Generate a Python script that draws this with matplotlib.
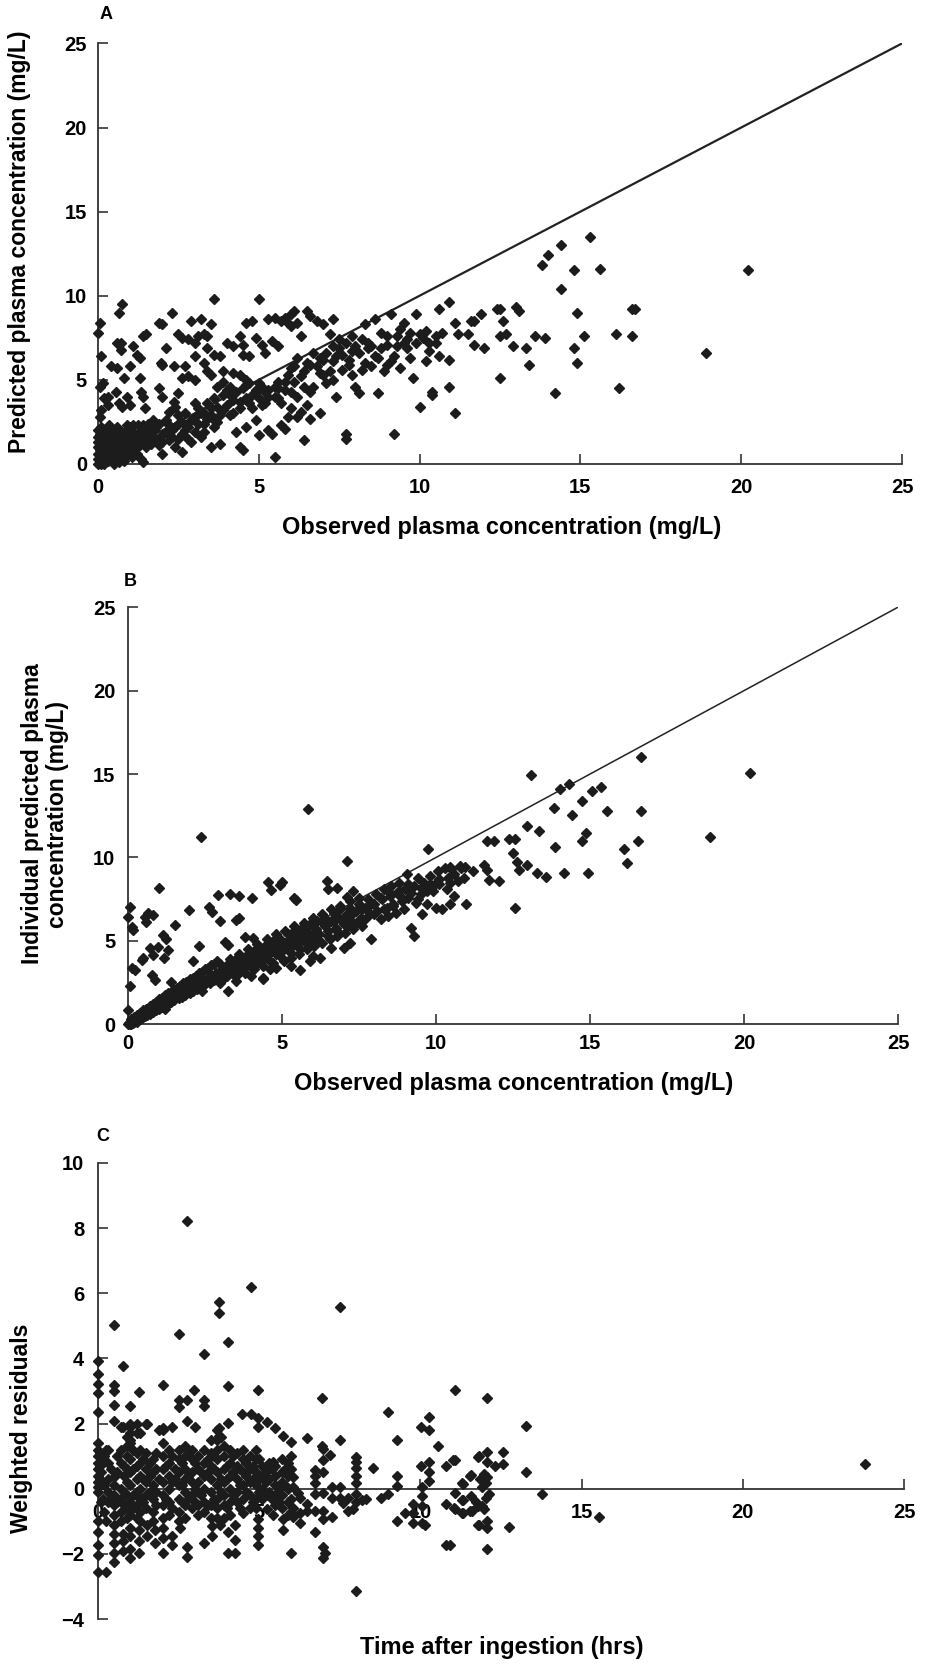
import numpy as np
import matplotlib.pyplot as plt

plt.rcParams['font.family'] = ['Liberation Sans', 'DejaVu Sans']
plt.rcParams['font.weight'] = 'bold'

# ---- Panel A: observed vs population predicted (mg/L) ----
a_origin = [(0.0, 0.0), (0.0, 0.3), (0.0, 0.6), (0.0, 1.0), (0.05, 0.2), (0.05, 0.8), (0.1, 0.5), (0.1, 1.2),
            (0.15, 0.1), (0.15, 1.5), (0.2, 0.4), (0.2, 0.9), (0.25, 1.7), (0.3, 0.2), (0.3, 0.7), (0.3, 1.3),
            (0.35, 1.0), (0.4, 0.5), (0.4, 1.6), (0.45, 0.2), (0.5, 0.9), (0.5, 1.3), (0.55, 1.8), (0.6, 0.6),
            (0.6, 1.1), (0.65, 0.1), (0.7, 1.5), (0.75, 0.8), (0.8, 1.9), (0.8, 1.2), (0.85, 0.4), (0.9, 1.0),
            (0.95, 1.6), (1.0, 2.2), (1.0, 0.7), (1.05, 1.3), (1.1, 1.9), (1.15, 0.9), (1.2, 1.5), (1.25, 2.3),
            (1.3, 1.1), (1.35, 0.3), (1.4, 1.7), (1.45, 2.0), (1.5, 1.3), (1.55, 2.4), (0.2, 0.0), (0.5, 0.0),
            (1.4, 0.1), (0.7, 0.3), (0.25, 2.0), (0.6, 2.2), (0.9, 2.3), (0.1, 0.0), (0.35, 0.5), (0.55, 1.4),
            (0.75, 1.0), (1.1, 1.5), (1.2, 0.6), (0.4, 2.1), (0.65, 1.7), (0.85, 1.4), (0.0, 1.3), (0.0, 1.6),
            (0.0, 2.0), (0.05, 1.8), (0.1, 2.2), (0.15, 0.7), (0.2, 1.3), (0.25, 0.6), (0.3, 1.8), (0.35, 2.3),
            (0.4, 0.9), (0.45, 1.4), (0.5, 1.8), (0.55, 0.3), (0.6, 1.5), (0.65, 2.0), (0.7, 0.6), (0.7, 1.1),
            (0.8, 0.2), (0.85, 1.7), (0.9, 0.6), (0.95, 2.0), (1.0, 1.1), (1.05, 0.4), (1.1, 2.3), (1.15, 1.6),
            (1.2, 1.0), (1.3, 1.9), (1.35, 1.4), (1.4, 2.3), (1.5, 1.0), (1.55, 1.7), (1.6, 2.2), (1.65, 1.2)]
a_band = [(1.6, 1.8), (1.7, 1.4), (1.8, 2.2), (1.9, 1.1), (2.0, 1.7), (2.1, 2.6), (2.2, 1.4), (2.3, 2.0),
          (2.4, 1.0), (2.5, 2.4), (2.6, 0.7), (2.6, 1.8), (2.7, 3.0), (2.8, 2.2), (2.9, 1.3), (3.0, 2.8),
          (3.1, 3.3), (3.2, 1.6), (3.3, 2.4), (3.4, 3.6), (3.5, 1.0), (3.5, 2.9), (2.2, 3.1), (2.4, 3.4),
          (1.7, 2.6), (2.0, 0.6), (3.6, 3.9), (3.7, 4.6), (3.8, 1.2), (3.9, 3.2), (4.0, 4.4), (4.1, 2.9),
          (4.2, 3.8), (4.3, 1.9), (4.4, 1.0), (4.5, 0.8), (4.6, 4.7), (4.7, 3.6), (4.8, 4.1), (4.9, 2.6),
          (5.0, 1.7), (5.0, 4.8), (5.1, 3.5), (5.2, 4.3), (5.3, 2.0), (5.4, 1.8), (5.5, 0.4), (5.5, 4.6),
          (5.6, 3.9), (5.7, 2.3), (5.8, 4.4), (5.9, 5.3), (6.0, 3.3), (6.0, 5.7), (3.9, 4.9), (4.1, 4.1),
          (3.7, 2.5), (4.6, 2.2), (5.8, 2.1), (6.2, 2.8), (6.1, 4.9), (6.2, 6.3), (6.3, 5.2), (6.4, 1.4),
          (6.5, 6.0), (6.6, 4.3), (6.7, 6.6), (6.8, 5.8), (6.9, 3.0), (7.0, 6.2), (7.1, 4.8), (7.2, 5.5),
          (7.3, 7.0), (7.4, 4.0), (7.5, 7.4), (7.6, 6.5), (7.7, 1.8), (7.7, 1.5), (7.8, 5.9), (7.9, 7.6),
          (8.0, 4.6), (8.0, 7.0), (8.1, 4.2), (6.3, 3.1), (6.6, 2.7), (7.5, 6.9), (7.2, 7.7), (8.2, 5.6),
          (8.3, 8.3), (8.4, 7.2), (8.5, 5.8), (8.6, 8.6), (8.7, 6.3), (8.7, 4.2), (8.8, 7.8), (8.9, 5.5),
          (9.0, 7.1), (9.1, 8.9), (9.2, 1.8), (9.2, 6.4), (9.3, 7.6), (9.4, 5.7), (9.5, 8.4), (9.6, 6.9),
          (9.7, 7.8), (9.8, 5.1), (9.9, 8.9), (10.0, 3.4), (10.1, 7.5), (10.2, 6.1), (10.3, 7.2), (10.4, 4.3),
          (10.5, 7.6), (10.6, 6.4), (10.4, 4.1), (10.6, 9.2), (10.9, 9.6), (11.1, 8.4), (10.9, 6.2), (10.9, 4.6),
          (11.1, 3.0), (9.5, 7.2), (8.4, 6.9), (9.0, 5.9), (2.5, 2.9), (3.0, 3.6), (3.3, 3.0), (3.6, 2.2),
          (4.4, 3.3), (4.9, 4.4), (5.3, 4.0), (5.6, 4.9), (6.4, 4.6), (6.9, 5.4), (7.3, 6.1), (7.9, 6.7),
          (1.75, 2.0), (1.8, 1.5), (1.9, 2.4), (2.0, 1.3), (2.1, 1.9), (2.2, 2.3), (2.3, 1.6), (2.4, 2.2),
          (2.5, 1.5), (2.6, 2.5), (2.7, 2.0), (2.8, 1.5), (2.9, 2.6), (3.0, 1.9), (3.1, 2.4), (3.2, 3.0),
          (3.3, 1.9), (3.4, 2.7), (3.5, 3.3), (3.6, 2.6), (3.7, 3.4), (3.8, 2.9), (3.9, 4.1), (4.0, 3.5),
          (4.1, 4.6), (4.2, 3.0), (4.3, 4.3), (4.4, 3.7), (4.5, 4.5), (4.6, 3.9), (4.7, 4.8), (4.8, 3.3),
          (4.9, 4.3), (5.0, 3.9), (5.1, 4.6), (5.2, 3.6), (5.3, 4.4), (5.5, 4.0), (5.6, 4.5), (5.7, 3.6),
          (5.8, 4.9), (5.9, 2.8), (6.0, 4.3), (6.1, 5.8), (6.2, 4.0), (6.4, 5.5), (6.5, 3.5), (6.6, 5.9),
          (6.7, 4.6), (6.9, 6.3), (7.0, 5.3), (7.1, 6.6), (7.3, 5.0), (7.4, 6.4), (7.6, 5.6), (7.7, 7.2),
          (7.8, 6.2), (7.9, 5.3), (8.1, 6.6), (8.2, 7.4), (8.3, 6.0), (8.5, 7.0), (8.6, 6.4), (8.8, 6.9),
          (9.0, 7.6), (9.1, 6.1), (9.3, 7.0), (9.4, 8.0), (9.6, 7.4), (9.7, 6.3), (9.9, 7.2), (10.0, 7.7),
          (10.2, 7.9), (10.3, 6.7), (10.5, 7.2), (10.7, 7.8)]
a_upper = [(0.0, 7.8), (0.05, 8.4), (0.1, 6.4), (0.05, 4.6), (0.15, 4.8), (0.1, 3.2), (0.05, 2.8), (0.2, 3.9),
           (0.3, 4.0), (0.3, 3.5), (0.75, 9.5), (0.65, 9.0), (0.6, 7.2), (0.7, 7.2), (0.7, 6.8), (0.4, 5.8),
           (0.6, 5.7), (0.8, 5.1), (0.55, 4.3), (0.65, 3.6), (0.75, 3.4), (0.9, 4.0), (1.0, 3.5), (1.1, 7.0),
           (1.2, 6.5), (1.3, 6.3), (1.0, 5.8), (1.4, 7.6), (1.5, 7.7), (1.3, 5.1), (1.35, 4.3), (1.4, 4.0),
           (1.45, 3.3), (1.9, 8.4), (2.0, 8.3), (2.3, 9.0), (2.1, 6.9), (1.95, 6.0), (2.0, 5.9), (2.35, 5.8),
           (1.9, 4.5), (2.0, 4.0), (2.35, 3.7), (2.5, 4.2), (2.5, 7.7), (2.6, 7.5), (2.8, 7.4), (2.9, 8.5),
           (3.0, 7.2), (3.1, 7.6), (3.2, 8.6), (3.3, 7.7), (3.4, 7.6), (3.5, 8.3), (3.6, 9.8), (3.4, 6.9),
           (3.6, 6.5), (3.3, 6.0), (3.4, 5.5), (3.5, 5.3), (2.7, 5.8), (2.8, 5.2), (3.0, 5.0), (2.6, 5.1),
           (3.0, 6.4), (4.0, 7.2), (4.2, 7.0), (4.4, 7.6), (4.5, 7.1), (4.6, 8.4), (4.8, 8.5), (4.9, 7.5),
           (5.0, 9.8), (5.1, 7.1), (5.3, 8.6), (5.5, 8.7), (5.7, 8.5), (5.8, 8.7), (5.9, 8.4), (6.0, 8.9),
           (6.1, 9.1), (6.0, 8.2), (6.2, 8.4), (6.5, 9.1), (6.6, 8.8), (6.8, 8.5), (7.0, 8.3), (7.3, 8.6),
           (6.3, 7.6), (5.4, 7.3), (5.6, 7.0), (5.2, 6.6), (4.7, 6.4), (4.5, 6.5), (4.4, 5.3), (4.6, 5.0),
           (4.2, 5.4), (3.8, 6.4), (3.9, 5.5)]
a_high = [(15.3, 13.5), (14.4, 13.0), (14.0, 12.4), (13.8, 11.8), (14.8, 11.5), (15.6, 11.6), (20.2, 11.5),
          (14.4, 10.4), (12.4, 9.2), (12.5, 9.2), (13.0, 9.3), (13.1, 9.1), (11.9, 8.9), (11.6, 8.5),
          (11.7, 8.5), (12.6, 8.5), (14.9, 9.0), (16.6, 9.2), (16.7, 9.2), (11.2, 7.7), (11.5, 7.7),
          (12.5, 7.6), (12.7, 7.7), (13.6, 7.6), (13.9, 7.5), (15.1, 7.6), (16.1, 7.7), (16.6, 7.6),
          (11.7, 7.1), (12.0, 6.9), (12.9, 7.0), (13.3, 6.9), (14.8, 6.9), (18.9, 6.6), (14.9, 6.0),
          (13.4, 5.9), (12.5, 5.1), (14.2, 4.2), (16.2, 4.5)]

# ---- Panel B: observed vs individual predicted (mg/L) ----
b_band = [(0.0, 0.0), (0.02, 0.1), (0.05, 0.0), (0.08, 0.15), (0.1, 0.05), (0.12, 0.2), (0.15, 0.1), (0.18, 0.25),
          (0.2, 0.15), (0.22, 0.3), (0.25, 0.2), (0.3, 0.4), (0.32, 0.25), (0.35, 0.45), (0.4, 0.35), (0.42, 0.55),
          (0.45, 0.4), (0.5, 0.6), (0.55, 0.5), (0.6, 0.75), (0.62, 0.55), (0.65, 0.8), (0.7, 0.65), (0.75, 0.9),
          (0.8, 0.75), (0.85, 1.0), (0.9, 0.85), (0.95, 1.15), (1.0, 0.95), (1.05, 1.25), (1.1, 1.05), (1.15, 1.35),
          (1.2, 1.15), (1.25, 1.45), (1.3, 1.25), (1.35, 1.55), (1.4, 1.35), (1.45, 1.65), (1.5, 1.45), (1.6, 1.75),
          (1.65, 1.55), (1.7, 1.9), (1.75, 1.65), (1.8, 2.0), (1.85, 1.75), (1.9, 2.1), (2.0, 1.9), (2.05, 2.25),
          (2.1, 2.0), (2.2, 2.4), (2.25, 2.1), (2.3, 2.55), (2.4, 2.3), (2.45, 2.7), (2.5, 2.4), (2.6, 2.8),
          (2.65, 2.5), (2.7, 2.95), (2.8, 2.65), (2.85, 3.1), (2.9, 2.75), (3.0, 3.2), (3.05, 2.9), (3.1, 3.4),
          (3.2, 3.05), (3.25, 3.6), (3.3, 3.2), (3.4, 3.7), (3.45, 3.3), (3.5, 3.9), (3.55, 3.0), (3.6, 3.5),
          (3.7, 4.0), (3.75, 3.3), (3.8, 3.7), (3.9, 4.2), (3.95, 3.5), (4.0, 3.9), (4.1, 4.4), (4.15, 3.6),
          (4.2, 4.1), (4.3, 4.6), (4.35, 3.8), (4.4, 2.8), (4.45, 4.3), (4.5, 4.8), (4.55, 3.9), (4.6, 3.3),
          (4.65, 4.5), (4.7, 5.0), (4.8, 4.2), (4.85, 4.7), (4.9, 5.2), (5.0, 4.4), (5.05, 3.8), (5.1, 4.9),
          (5.2, 5.4), (5.25, 4.6), (5.3, 4.0), (5.35, 5.1), (5.4, 5.6), (5.5, 4.8), (5.55, 4.2), (5.6, 5.3),
          (5.65, 5.8), (5.7, 5.0), (5.8, 4.5), (5.85, 5.5), (5.9, 6.0), (6.0, 5.2), (6.05, 4.7), (6.1, 5.7),
          (6.15, 6.2), (6.2, 5.4), (6.3, 4.9), (6.35, 6.0), (6.4, 6.4), (6.5, 5.6), (6.55, 5.1), (6.6, 6.2),
          (6.7, 6.7), (6.75, 5.8), (6.8, 5.3), (6.85, 6.4), (6.9, 6.9), (7.0, 6.0), (7.05, 5.5), (7.1, 6.6),
          (7.2, 7.0), (7.25, 6.2), (7.3, 5.7), (7.4, 6.8), (7.5, 7.2), (7.55, 6.4), (7.6, 5.9), (7.7, 7.0),
          (7.8, 7.5), (7.85, 6.6), (7.9, 5.1), (8.0, 7.2), (8.05, 7.8), (8.1, 6.8), (8.2, 6.3), (8.25, 7.5),
          (8.3, 8.1), (8.4, 7.0), (8.45, 6.5), (8.5, 7.7), (8.55, 8.3), (8.6, 7.2), (8.7, 6.7), (8.75, 7.9),
          (8.8, 8.5), (8.9, 7.4), (8.95, 6.9), (9.0, 8.1), (9.05, 9.0), (9.1, 7.6), (9.2, 5.8), (9.3, 5.3),
          (9.3, 8.3), (9.35, 7.3), (9.4, 8.8), (9.5, 7.8), (9.55, 6.6), (9.6, 8.5), (9.7, 7.2), (9.8, 8.9),
          (9.9, 8.0), (10.0, 7.0), (10.05, 9.2), (10.1, 8.4), (10.2, 6.9), (10.3, 9.4), (10.35, 8.1), (10.5, 9.3),
          (10.6, 7.7), (10.7, 8.6), (10.8, 9.4), (3.26, 1.98), (5.58, 3.23), (6.23, 3.97), (4.4, 2.7),
          (2.0, 2.3), (2.4, 2.0), (1.0, 1.3), (1.2, 0.9), (0.5, 0.8), (0.3, 0.15), (1.5, 1.9), (1.8, 2.3)]
b_thick = [(0.1, 0.3), (0.2, 0.45), (0.3, 0.55), (0.4, 0.7), (0.5, 0.85), (0.6, 0.95), (0.7, 1.1), (0.8, 1.2),
           (0.9, 1.35), (1.0, 1.5), (1.1, 1.6), (1.2, 1.75), (1.3, 1.85), (1.4, 1.95), (1.5, 2.05), (1.6, 2.2),
           (1.7, 2.3), (1.8, 2.45), (1.9, 2.55), (2.0, 2.7), (2.1, 2.8), (2.2, 2.9), (2.3, 3.05), (2.4, 3.15),
           (2.5, 3.3), (2.6, 3.4), (2.7, 3.55), (2.8, 3.6), (2.9, 3.8), (3.0, 2.5), (3.1, 2.7), (3.2, 2.9),
           (3.4, 3.0), (3.6, 3.1), (3.0, 3.6), (3.3, 3.9), (3.6, 4.2), (3.9, 4.5), (4.2, 4.8), (4.5, 5.1),
           (4.8, 5.4), (5.1, 5.6), (5.4, 5.9), (5.7, 6.1), (6.0, 6.4), (6.3, 6.6), (6.6, 6.9), (6.9, 7.1),
           (7.2, 7.4), (7.5, 7.6), (3.8, 3.1), (4.1, 3.3), (4.4, 3.5), (4.7, 3.7), (5.0, 4.0), (5.3, 4.3),
           (5.6, 4.5), (5.9, 4.8), (6.2, 5.0), (6.5, 5.3), (6.8, 5.6), (7.1, 5.9), (7.4, 6.1), (7.7, 6.3),
           (8.0, 6.6), (8.3, 6.9), (8.6, 7.1), (8.9, 7.6), (9.2, 7.9), (9.5, 8.2), (9.8, 8.4), (10.1, 8.7),
           (4.3, 4.0), (4.6, 4.3), (4.9, 4.6), (5.2, 4.9), (5.5, 5.2), (5.8, 5.3), (6.1, 5.6), (6.4, 5.9),
           (6.7, 6.2), (7.0, 6.4), (7.3, 6.7), (7.6, 6.9), (7.9, 7.2), (8.2, 7.6), (8.5, 7.9), (8.8, 8.0),
           (9.1, 8.4), (9.4, 7.5), (9.7, 8.0), (10.0, 8.5), (10.4, 8.8), (10.6, 9.0), (3.5, 2.6), (4.0, 2.9),
           (4.8, 3.4), (5.3, 3.5), (5.9, 3.8), (6.6, 4.6), (7.2, 4.9), (6.0, 4.1), (7.0, 4.6)]
b_upper = [(5.86, 12.9), (2.37, 11.21), (9.75, 10.52), (7.1, 9.78), (1.0, 8.19), (4.56, 8.53), (4.63, 8.08),
           (4.99, 8.53), (4.94, 8.33), (2.93, 7.74), (3.31, 7.84), (3.61, 7.68), (4.04, 7.6), (6.45, 8.59),
           (6.5, 8.13), (6.78, 8.19), (5.39, 7.6), (5.45, 7.44), (7.32, 8.0), (7.1, 7.64), (1.99, 6.88),
           (2.64, 7.04), (2.72, 6.75), (3.0, 6.21), (3.5, 6.25), (3.61, 6.35), (0.07, 7.04), (0.01, 6.41),
           (0.12, 5.85), (0.17, 5.65), (0.55, 6.45), (0.66, 6.65), (0.82, 6.55), (0.6, 6.15), (1.53, 5.95),
           (1.15, 5.36), (1.25, 5.1), (1.31, 4.46), (0.98, 4.66), (0.71, 4.56), (0.8, 4.17), (0.5, 3.97),
           (0.44, 3.87), (0.12, 3.37), (0.23, 3.27), (0.07, 2.28), (0.01, 0.89), (0.77, 2.98), (0.88, 2.68),
           (1.18, 3.97), (1.39, 2.52), (2.31, 4.72), (2.12, 3.77), (4.07, 5.16), (3.8, 5.26), (3.15, 4.96),
           (3.26, 4.76)]
b_high = [(16.64, 16.03), (13.09, 14.96), (20.19, 15.08), (14.03, 14.11), (14.33, 14.38), (14.75, 13.39),
          (15.08, 13.99), (15.35, 14.25), (13.83, 12.94), (15.54, 12.8), (16.64, 12.8), (14.43, 12.56),
          (12.97, 11.87), (13.35, 11.61), (18.88, 11.25), (11.65, 10.99), (11.88, 10.99), (12.38, 11.11),
          (12.56, 11.11), (14.86, 11.49), (14.75, 10.97), (13.88, 10.61), (16.57, 10.97), (16.12, 10.5),
          (16.19, 9.64), (12.51, 10.26), (12.62, 9.72), (12.7, 9.27), (12.97, 9.54), (13.29, 9.07),
          (13.56, 8.81), (14.16, 9.07), (14.92, 9.07), (11.57, 9.56), (11.65, 9.23), (11.73, 8.67),
          (12.03, 8.57), (11.19, 9.17), (10.92, 8.79), (10.78, 9.5), (10.94, 9.46), (10.45, 9.46),
          (10.45, 8.47), (10.45, 7.24), (10.99, 7.24), (12.56, 7.0)]

# ---- Panel C: time after ingestion (hrs) vs weighted residuals ----
c_cloud = [(0.0, 1.4), (0.0, 1.2), (0.0, 1.0), (0.0, 0.8), (0.0, 0.6), (0.0, 0.4), (0.0, 0.2), (0.0, 0.05),
           (0.0, -0.1), (0.05, 1.1), (0.05, 0.7), (0.05, 0.3), (0.3, 1.2), (0.3, 0.8), (0.3, 0.3), (0.3, -0.1),
           (0.3, -0.4), (0.5, 0.35), (0.5, 0.1), (0.5, -0.2), (0.5, -0.5), (0.5, -0.8), (0.5, -1.1),
           (0.7, 1.9), (0.7, 1.2), (0.7, 0.8), (0.7, 0.0), (0.7, -0.3), (0.7, -0.7), (0.7, -1.0),
           (0.9, 1.6), (0.9, 1.3), (0.9, 1.0), (0.9, 0.6), (0.9, 0.2), (0.9, -0.2), (0.9, -0.6), (0.9, -0.9),
           (1.0, 1.9), (1.0, 1.4), (1.0, 0.9), (1.0, 0.5), (1.0, 0.1), (1.0, -0.4), (1.0, -0.8), (1.0, -1.2),
           (1.2, 1.7), (1.2, 1.1), (1.2, 0.7), (1.2, 0.3), (1.2, -0.1), (1.2, -0.5), (1.2, -0.9),
           (1.3, 1.2), (1.3, 0.8), (1.3, 0.4), (1.3, 0.0), (1.3, -0.3), (1.3, -0.7), (1.3, -1.0),
           (1.5, 1.1), (1.5, 0.6), (1.5, 0.2), (1.5, -0.2), (1.5, -0.6), (1.7, 0.9), (1.7, 0.5), (1.7, 0.1),
           (1.7, -0.3), (1.7, -0.7), (1.7, -1.0), (2.0, 1.8), (2.0, 1.4), (2.0, 1.0), (2.0, 0.6), (2.0, 0.2),
           (2.0, -0.2), (2.0, -0.5), (2.0, -0.9), (2.0, -1.2), (2.2, 1.2), (2.2, 0.8), (2.2, 0.4), (2.2, 0.0),
           (2.2, -0.4), (2.2, -0.8), (2.5, 1.2), (2.5, 0.9), (2.5, 0.5), (2.5, 0.1), (2.5, -0.3), (2.5, -0.7),
           (2.5, -1.0), (2.7, 1.3), (2.7, 1.0), (2.7, 0.6), (2.7, 0.3), (2.7, -0.1), (2.7, -0.5), (2.7, -0.9),
           (2.9, 1.2), (2.9, 0.9), (2.9, 0.5), (2.9, 0.2), (2.9, -0.2), (2.9, -0.6), (3.1, 1.0), (3.1, 0.6),
           (3.1, 0.2), (3.1, -0.1), (3.1, -0.5), (3.1, -0.8), (3.3, 1.2), (3.3, 0.8), (3.3, 0.4), (3.3, 0.0),
           (3.3, -0.4), (3.3, -0.7), (3.5, 1.1), (3.5, 0.7), (3.5, 0.3), (3.5, -0.1), (3.5, -0.5), (3.5, -0.9),
           (3.7, 1.5), (3.7, 1.2), (3.7, 0.9), (3.7, 0.5), (3.7, 0.1), (3.7, -0.3), (3.7, -0.6), (3.7, -0.9),
           (3.9, 1.3), (3.9, 1.0), (3.9, 0.6), (3.9, 0.2), (3.9, -0.2), (3.9, -0.5), (3.9, -0.9),
           (4.1, 1.2), (4.1, 0.8), (4.1, 0.4), (4.1, 0.0), (4.1, -0.4), (4.1, -0.8), (4.3, 1.1), (4.3, 0.7),
           (4.3, 0.3), (4.3, -0.1), (4.3, -0.4), (4.5, 1.2), (4.5, 0.9), (4.5, 0.5), (4.5, 0.1), (4.5, -0.3),
           (4.7, 1.0), (4.7, 0.6), (4.7, 0.2), (4.7, -0.2), (4.7, -0.6), (4.9, 1.2), (4.9, 0.9), (4.9, 0.5),
           (4.9, 0.1), (4.9, -0.3), (4.9, -0.6), (5.1, 0.7), (5.1, 0.4), (5.1, 0.0), (5.1, -0.3),
           (5.3, 0.8), (5.3, 0.3), (5.3, -0.1), (5.5, 0.7), (5.5, 0.4), (5.5, 0.1), (5.5, -0.2), (5.5, -0.5),
           (5.7, 0.9), (5.7, 0.5), (5.7, 0.2), (5.7, -0.2), (5.7, -0.6), (5.9, 0.8), (5.9, 0.4), (5.9, 0.0),
           (5.9, -0.4), (5.9, -0.8), (6.0, 1.0), (6.0, 0.6), (6.0, -0.3), (6.0, -0.7), (0.26, 1.2),
           (1.0, 1.7), (1.2, 2.0), (1.3, 1.7), (1.5, 2.0), (1.9, 1.8), (3.5, 1.5), (3.7, 1.8), (3.8, 1.6),
           (5.23, 0.63), (5.43, 0.81), (0.15, 0.9), (0.15, -0.3), (0.8, 0.4), (1.1, -0.2), (1.4, 0.3),
           (1.8, -0.1), (2.4, 0.3), (2.6, -0.4), (2.8, 0.4), (3.0, 0.0), (3.4, 0.5), (3.6, -0.3), (4.0, 0.3),
           (4.2, -0.2), (4.4, 0.6), (4.6, -0.1), (4.8, 0.3), (5.0, -0.1), (5.2, 0.5), (5.4, -0.3)]
c_fill = [(0.1, 0.9), (0.1, 0.5), (0.1, -0.4), (0.2, 1.0), (0.2, 0.1), (0.2, -0.7), (0.4, 0.6), (0.4, -0.3),
          (0.6, 0.5), (0.6, -0.4), (0.6, 1.0), (0.8, 0.7), (0.8, -0.1), (0.8, -0.5), (1.1, 0.6), (1.1, 1.2),
          (1.1, -0.6), (1.4, 0.9), (1.4, -0.4), (1.6, 0.4), (1.6, 0.8), (1.6, -0.1), (1.8, 0.6), (1.8, 1.1),
          (1.8, -0.5), (1.9, 0.3), (2.1, 0.7), (2.1, -0.3), (2.3, 1.0), (2.3, 0.2), (2.3, -0.6), (2.4, 0.6),
          (2.6, 0.8), (2.6, 0.1), (2.8, 1.1), (2.8, -0.3), (3.0, 0.8), (3.0, -0.4), (3.2, 0.5), (3.2, -0.2),
          (3.4, 0.9), (3.4, -0.5), (3.6, 0.6), (3.6, 1.0), (3.8, 0.3), (3.8, -0.1), (4.0, 0.7), (4.0, -0.6),
          (4.2, 0.5), (4.2, 1.0), (4.4, 0.1), (4.4, -0.6), (4.6, 0.8), (4.6, 0.4), (4.8, -0.4), (4.8, 0.7),
          (5.0, 0.3), (5.0, 0.9), (5.2, -0.2), (5.2, 0.2), (5.4, 0.6), (5.6, 0.0), (5.6, -0.4), (5.8, 0.6),
          (5.8, 0.1)]
c_low = [(0.0, -2.54), (0.26, -2.54), (0.5, -2.25), (0.0, -2.02), (0.0, -1.73), (0.0, -1.33), (0.0, -0.98),
         (0.26, -0.98), (0.5, -1.67), (0.5, -1.96), (0.5, -1.38), (0.76, -1.9), (0.76, -1.61), (0.76, -1.38),
         (1.0, -2.13), (1.0, -1.85), (1.0, -1.44), (1.27, -1.96), (1.27, -1.61), (1.27, -1.27), (1.52, -1.44),
         (1.52, -1.1), (1.77, -1.67), (1.77, -1.27), (2.02, -1.96), (2.02, -1.5), (2.28, -1.73), (2.28, -1.44),
         (2.54, -1.21), (2.77, -1.79), (2.77, -2.08), (3.28, -1.67), (3.54, -1.44), (3.54, -1.15), (3.78, -1.1),
         (4.04, -1.96), (4.04, -1.33), (4.24, -1.96), (4.24, -1.56), (4.24, -1.1), (4.5, -0.75), (4.97, -1.73),
         (4.97, -1.44), (4.97, -1.21), (4.97, -0.92), (5.23, -0.63), (5.43, -0.81), (5.75, -0.92),
         (6.06, -0.87), (6.26, -1.04), (6.26, -0.75), (6.06, -0.58), (6.26, -0.29), (5.75, -1.27),
         (6.0, -1.96), (6.73, -1.33), (6.73, -0.69), (6.99, -0.69), (6.99, -0.92), (6.99, -1.79),
         (7.04, -1.96), (6.99, -2.13), (7.25, -0.87), (8.0, -3.15)]
c_high = [(2.77, 8.22), (4.73, 6.19), (3.76, 5.74), (3.76, 5.39), (7.51, 5.57), (0.5, 5.02), (2.52, 4.76),
          (4.04, 4.52), (3.28, 4.15), (0.76, 3.77), (0.0, 3.91), (0.0, 3.52), (0.0, 3.23), (0.0, 2.94),
          (0.0, 2.36), (0.5, 3.19), (0.5, 3.0), (0.5, 2.56), (0.5, 2.08), (2.0, 3.17), (2.97, 3.03),
          (4.04, 3.15), (4.97, 3.03), (1.27, 2.96), (1.0, 2.54), (2.52, 2.71), (2.77, 2.73), (2.52, 2.5),
          (3.28, 2.73), (3.28, 2.54), (6.94, 2.8), (8.99, 2.36), (4.48, 2.31), (4.73, 2.31), (2.77, 2.08),
          (3.0, 1.9), (4.04, 2.02), (0.76, 1.9), (1.0, 1.99), (1.52, 1.99), (1.0, 1.5), (2.0, 1.85),
          (2.28, 1.9), (3.76, 1.88), (3.76, 1.61), (4.97, 2.16), (4.97, 1.9), (5.23, 2.04), (5.49, 1.88),
          (5.75, 1.61), (6.0, 1.44), (6.47, 1.56), (7.51, 1.5), (9.26, 1.5), (10.01, 1.9), (10.28, 2.19),
          (10.28, 1.81), (10.53, 1.3), (6.94, 1.3), (7.19, 1.04)]
c_late = [(8.52, 0.63), (10.8, 0.69), (11.0, 0.89), (10.01, 0.69), (10.28, 0.81), (10.28, 0.52), (10.28, 0.23),
          (10.04, 0.06), (9.26, 0.4), (9.26, 0.08), (8.78, -0.29), (9.0, -0.17), (9.26, -0.98), (9.52, -0.75),
          (9.78, -0.46), (9.78, -0.75), (10.04, -0.23), (10.04, -0.52), (10.04, -1.04), (9.78, -1.04),
          (10.14, -1.1), (10.8, -1.73), (10.8, -0.46), (11.03, -0.58), (11.28, -0.75), (11.54, -0.69),
          (11.8, -0.52), (11.8, -1.1), (11.28, -0.35), (11.54, 0.4), (11.8, 0.98), (11.28, 0.17),
          (8.0, 0.98), (8.0, 0.81), (8.0, 0.63), (8.0, 0.4), (8.0, 0.17), (8.0, -0.17), (8.0, -0.4),
          (7.9, -0.63), (7.76, -0.69), (7.76, -0.29), (7.51, 0.06), (7.51, -0.29), (7.25, -0.29), (7.25, 0.06),
          (6.99, -0.12), (6.73, -0.17), (6.73, 0.17), (6.99, 1.21), (6.99, 0.87), (6.99, 0.52), (6.73, 0.58),
          (6.73, 0.4), (6.47, -0.46), (6.47, -0.69), (6.21, -0.12), (6.06, 0.35), (6.06, 0.06), (8.2, -0.35),
          (8.3, -0.3), (7.6, -0.45), (11.06, 3.03), (12.07, 2.8), (13.27, 1.93), (23.79, 0.75), (13.27, 0.5),
          (13.78, -0.17), (15.54, -0.87), (12.74, -1.18), (12.07, -1.85), (11.06, 0.87), (11.81, 1.0),
          (12.07, 1.12), (12.07, 0.81), (12.56, 1.12), (12.56, 0.75), (12.31, 0.69), (11.57, 0.43),
          (11.32, 0.14), (11.84, 0.29), (11.97, 0.46), (12.07, 0.35), (12.02, 0.17), (11.91, 0.06),
          (11.06, -0.12), (11.32, -0.35), (11.57, -0.23), (11.71, -0.4), (11.91, -0.52), (12.02, -0.29),
          (12.12, -0.15), (11.97, -0.63), (11.06, -0.63), (11.32, -0.75), (11.61, -0.69), (11.81, -1.1),
          (12.07, -0.98), (12.07, -1.21), (10.93, -1.73)]

identity = [0, 25]
ticks_conc = [0, 5, 10, 15, 20, 25]
ticks_time = [0, 5, 10, 15, 20, 25]
ticks_resid = [-4, -2, 0, 2, 4, 6, 8, 10]

mk = dict(marker='D', ms=5.4, color='#1c1c1c', ls='none', clip_on=False, zorder=3)
spine_c = '#333333'


def style(ax, xpad, ypad):
    for s in ['top', 'right']:
        ax.spines[s].set_visible(False)
    for s in ['left', 'bottom']:
        ax.spines[s].set_linewidth(1.3)
        ax.spines[s].set_color(spine_c)
    ax.tick_params(direction='in', length=7, width=1.2, color=spine_c, labelsize=14.5)
    ax.tick_params(axis='x', pad=xpad)
    ax.tick_params(axis='y', pad=ypad)
    for lab in ax.get_xticklabels() + ax.get_yticklabels():
        lab.set_fontweight('bold')


fig = plt.figure(figsize=(9.3, 16.64), dpi=100)
xlab_kw = dict(fontsize=17, fontweight='bold', ha='center', va='center')
ylab_kw = dict(fontsize=16.5, fontweight='bold', ha='center', va='center', rotation=90)

# Panel A
axA = fig.add_axes([0.1054, 0.7212, 0.8645, 0.2527])
pts = np.array(a_origin + a_band + a_upper + a_high)
axA.plot(identity, identity, color='#222222', lw=1.6, zorder=2)
axA.plot(pts[:, 0], pts[:, 1], **mk)
axA.set_xlim(0, 25)
axA.set_ylim(0, 25)
axA.set_xticks(ticks_conc)
axA.set_yticks(ticks_conc)
style(axA, 10, 8)
fig.text(0.114, 0.9915, 'A', fontsize=13, fontweight='bold', va='center', ha='center')
fig.text(0.0215, 0.8546, 'Predicted plasma concentration (mg/L)', **ylab_kw)
fig.text(0.539, 0.6827, 'Observed plasma concentration (mg/L)', **xlab_kw)

# Panel B
axB = fig.add_axes([0.1376, 0.3844, 0.8280, 0.2507])
pts = np.array(b_band + b_thick + b_upper + b_high)
axB.plot(identity, identity, color='#222222', lw=1.1, zorder=2)
axB.plot(pts[:, 0], pts[:, 1], **mk)
axB.set_xlim(0, 25)
axB.set_ylim(0, 25)
axB.set_xticks(ticks_conc)
axB.set_yticks(ticks_conc)
style(axB, 7, 9)
fig.text(0.140, 0.6508, 'B', fontsize=13, fontweight='bold', va='center', ha='center')
fig.text(0.0484, 0.5108, 'Individual predicted plasma\nconcentration (mg/L)', linespacing=1.15, **ylab_kw)
fig.text(0.552, 0.3486, 'Observed plasma concentration (mg/L)', **xlab_kw)

# Panel C
axC = fig.add_axes([0.1054, 0.0270, 0.8667, 0.2741])
pts = np.array(c_cloud + c_fill + c_low + c_high + c_late)
axC.plot(pts[:, 0], pts[:, 1], **mk)
axC.set_xlim(0, 25)
axC.set_ylim(-4, 10)
axC.set_xticks(ticks_time)
axC.set_yticks(ticks_resid)
axC.spines['bottom'].set_position(('data', 0))
style(axC, 10, 10)
fig.text(0.111, 0.3173, 'C', fontsize=13, fontweight='bold', va='center', ha='center')
fig.text(0.0226, 0.1418, 'Weighted residuals', **ylab_kw)
fig.text(0.539, 0.0100, 'Time after ingestion (hrs)', **xlab_kw)

fig.savefig('out.png', dpi=100)
